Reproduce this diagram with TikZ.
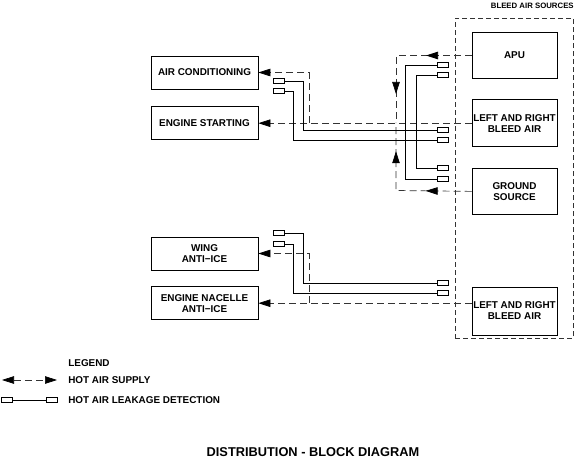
\documentclass[tikz,border=0pt]{standalone}
\usepackage{fontspec}
\setmainfont{Liberation Sans}
\usetikzlibrary{arrows.meta,positioning,calc,decorations.markings}

\begin{document}
\begin{tikzpicture}[x=1pt,y=-1pt,font=\fontsize{9.9}{11}\selectfont\bfseries,
  line width=0.7pt,
  blk/.style={draw,minimum width=107pt,minimum height=33pt,align=center,inner sep=1pt},
  src/.style={draw,minimum width=85pt,minimum height=46pt,align=center,inner sep=1pt},
  det/.style={draw,minimum width=11pt,minimum height=5pt,inner sep=0pt,line width=0.6pt},
  air/.style={dash pattern=on 7pt off 4pt,draw=black!80},
  leak/.style={line width=0.6pt},
  tip/.style={-{Triangle[length=12pt,width=7.5pt,color=black]}},
  flow/.style 2 args={decoration={markings,
      mark=at position #1 with {\arrow{Triangle[length=12pt,width=7.5pt,color=black]}},
      mark=at position #2 with {\arrow{Triangle[length=12pt,width=7.5pt,color=black]}}},
    postaction={decorate}}]
\useasboundingbox (0,0) rectangle (579,461);
\node[blk] (ac) at (204.5,72.5) {AIR CONDITIONING};
\node[blk,below=17pt of ac] (es) {ENGINE STARTING};
\node[blk] (wing) at (204.5,253.5) {WING\\ANTI−ICE};
\node[blk,below=16pt of wing] (nac) {ENGINE NACELLE\\ANTI−ICE};
\node[draw,air,dash pattern=on 5pt off 3pt,minimum width=118pt,minimum height=320pt]
   (srcs) at (514,178) {};
\node[anchor=base east,font=\fontsize{7.8}{9}\selectfont\bfseries]
   at ($(srcs.north east)+(4,-9)$) {BLEED AIR SOURCES};
\node[src] (apu) at (514.5,55.5) {APU};
\node[src,minimum height=47pt,below=20.5pt of apu] (lrb) {LEFT AND RIGHT\\BLEED AIR};
\node[src,below=21pt of lrb] (gnd) {GROUND\\SOURCE};
\node[src,minimum height=48pt] (lrb2) at (514.5,311) {LEFT AND RIGHT\\BLEED AIR};
\coordinate (k1) at (396,55.5);
\coordinate (km) at (396,122.5);
\coordinate (k2) at (396,190.5);
\draw[air,flow={0.32}{0.8}] (apu.west) -- (k1) -- (km);
\draw[air,flow={0.32}{0.8}] (gnd.west) -- (k2) -- (km);
\draw[air,tip] (lrb.west) -- (es.east);
\coordinate (j1) at (309,122.5);
\draw[air,tip] (j1) |- (ac.east);
\draw[air,tip] (nac.east -| lrb2.west) -- (nac.east);
\coordinate (j2) at (309,302.5);
\draw[air,tip] (j2) |- (wing.east);
\node[det] (r1) at (443,65) {};
\node[det] (r2) at (443,75) {};
\node[det] (r3) at (443,130) {};
\node[det] (r4) at (443,140) {};
\node[det] (r5) at (443,168) {};
\node[det] (r6) at (443,179) {};
\node[det] (r7) at (443,283) {};
\node[det] (r8) at (443,293) {};
\node[det] (l1) at (279,81) {};
\node[det] (l2) at (279,91) {};
\node[det] (l3) at (279,233) {};
\node[det] (l4) at (279,244) {};
\draw[leak] (r1.west) -- ++(-31.5,0) |- (r6.west);
\draw[leak] (r2.west) -- ++(-20.5,0) |- (r5.west);
\draw[leak] (l1.east) -- ++(18.5,0) |- (r3.west);
\draw[leak] (l2.east) -- ++(8.5,0) |- (r4.west);
\draw[leak] (l3.east) -- ++(18.5,0) |- (r7.west);
\draw[leak] (l4.east) -- ++(8.5,0) |- (r8.west);
\node[anchor=west,inner sep=0pt] (lg) at (68,363) {LEGEND};
\coordinate (la) at (2,380);
\coordinate (lb) at (57,380);
\draw[air,{Triangle[length=12pt,width=7.5pt,color=black]}-{Triangle[length=12pt,width=7.5pt,color=black]}] (la) -- (lb);
\node[anchor=west,inner sep=0pt] (hs) at (68,380) {HOT AIR SUPPLY};
\node[det] (e1) at (7,400) {};
\node[det] (e2) at (52,400) {};
\draw[leak] (e1) -- (e2);
\node[anchor=west,inner sep=0pt] (hl) at (68,400) {HOT AIR LEAKAGE DETECTION};
\node[font=\fontsize{12.8}{15}\selectfont\bfseries] (ttl) at (313,452) {DISTRIBUTION - BLOCK DIAGRAM};
\end{tikzpicture}
\end{document}
